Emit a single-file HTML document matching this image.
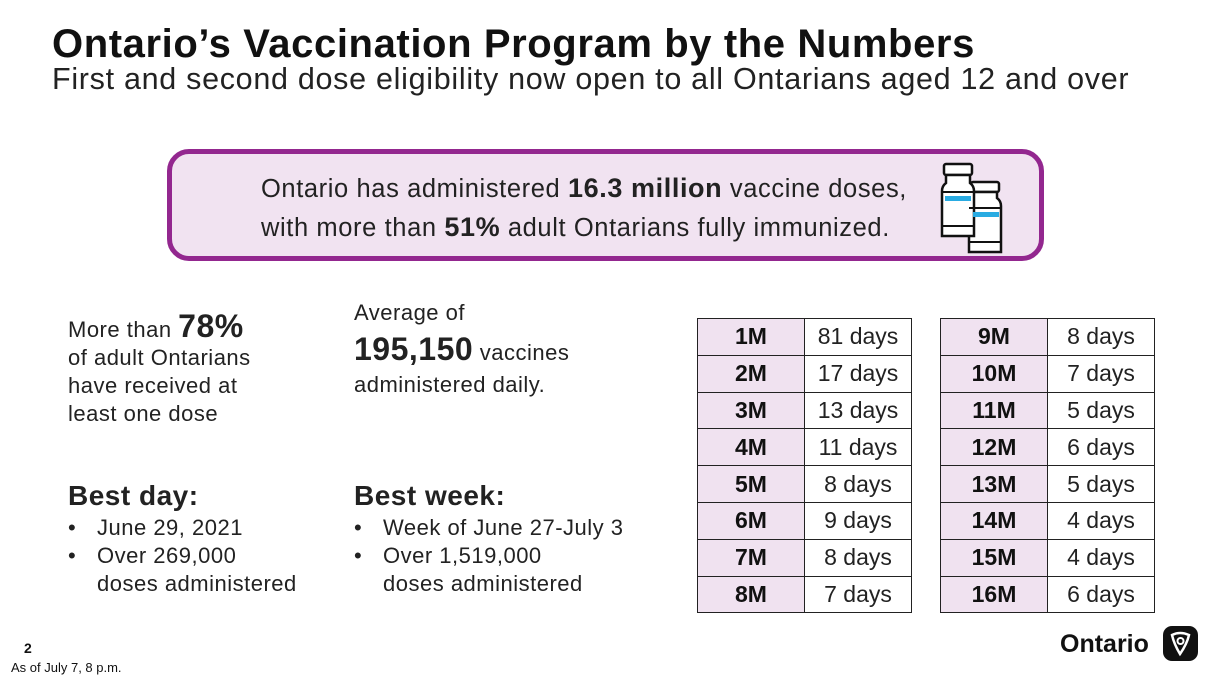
<!DOCTYPE html>
<html><head><meta charset="utf-8"><style>
body{margin:0;width:1218px;height:679px;background:#fff;font-family:"Liberation Sans",sans-serif;color:#111;position:relative;overflow:hidden}
.a{position:absolute;margin:0}
h1{position:absolute;left:52px;top:22px;margin:0;font-size:40px;font-weight:bold;letter-spacing:0.6px;white-space:nowrap}
.sub{left:52px;top:62px;font-size:30.5px;color:#222;letter-spacing:0.7px;white-space:nowrap}
.box{left:167px;top:149px;width:867px;height:102px;border:5px solid #93278f;border-radius:22px;background:#f1e3f1}
.boxt{left:89px;top:15px;font-size:25.5px;line-height:38px;color:#222;letter-spacing:0.6px;white-space:nowrap}
.t{position:absolute;border-collapse:collapse;font-size:23px}
.t td{border:1.5px solid #222;height:35.8px;padding:0;text-align:center}
.t td.k{background:#f0e2f0;font-weight:bold;width:106px}
.t td.v{width:106px;color:#222}
.txt{font-size:22px;line-height:28px;color:#222;letter-spacing:0.5px;white-space:nowrap}
ul{margin:0;padding:0;list-style:none}
li{position:relative;padding-left:29px}
li:before{content:"•";position:absolute;left:0}
</style></head><body>
<h1>Ontario’s Vaccination Program by the Numbers</h1>
<p class="a sub">First and second dose eligibility now open to all Ontarians aged 12 and over</p>
<div class="a box">
<p class="a boxt">Ontario has administered <b style="font-size:27px">16.3 million</b> vaccine doses,<br>with more than <b style="font-size:27px">51%</b> adult Ontarians fully immunized.</p>
<svg class="a" style="left:766px;top:8px" width="66" height="92" viewBox="0 0 66 92">
<g stroke="#111" stroke-width="2.5" fill="#fff">
<rect x="33" y="20" width="28" height="10" rx="2"/><path d="M35 30 h24 v6 q4 3 4 8 v46 h-32 v-46 q0-5 4-8z"/>
<rect x="6" y="2" width="28" height="11" rx="2"/><path d="M8 13 h24 v8 q4 3 4 8 v45 h-32 v-45 q0-5 4-8z"/>
</g>
<rect x="7" y="34" width="26" height="5" fill="#29abe2"/><rect x="35" y="50" width="26" height="5" fill="#29abe2"/>
<line x1="4" y1="30" x2="36" y2="30" stroke="#111" stroke-width="2"/><line x1="4" y1="64" x2="36" y2="64" stroke="#111" stroke-width="2"/>
<line x1="31" y1="46" x2="63" y2="46" stroke="#111" stroke-width="2"/><line x1="31" y1="80" x2="63" y2="80" stroke="#111" stroke-width="2"/>
</svg>
</div>
<div class="a txt" style="left:68px;top:312px">More than <b style="font-size:32px">78%</b><br>of adult Ontarians<br>have received at<br>least one dose</div>
<div class="a txt" style="left:354px;top:299px">Average of<br><b style="font-size:32px;line-height:44px">195,150</b> vaccines<br>administered daily.</div>
<div class="a txt" style="left:68px;top:478px"><b style="font-size:28px;line-height:36px">Best day:</b><ul><li>June 29, 2021</li><li>Over 269,000<br>doses administered</li></ul></div>
<div class="a txt" style="left:354px;top:478px"><b style="font-size:28px;line-height:36px">Best week:</b><ul><li>Week of June 27-July 3</li><li>Over 1,519,000<br>doses administered</li></ul></div>
<table class="t" style="left:697px;top:318px">
<tr><td class="k">1M</td><td class="v">81 days</td></tr><tr><td class="k">2M</td><td class="v">17 days</td></tr><tr><td class="k">3M</td><td class="v">13 days</td></tr><tr><td class="k">4M</td><td class="v">11 days</td></tr><tr><td class="k">5M</td><td class="v">8 days</td></tr><tr><td class="k">6M</td><td class="v">9 days</td></tr><tr><td class="k">7M</td><td class="v">8 days</td></tr><tr><td class="k">8M</td><td class="v">7 days</td></tr></table>
<table class="t" style="left:940px;top:318px">
<tr><td class="k">9M</td><td class="v">8 days</td></tr><tr><td class="k">10M</td><td class="v">7 days</td></tr><tr><td class="k">11M</td><td class="v">5 days</td></tr><tr><td class="k">12M</td><td class="v">6 days</td></tr><tr><td class="k">13M</td><td class="v">5 days</td></tr><tr><td class="k">14M</td><td class="v">4 days</td></tr><tr><td class="k">15M</td><td class="v">4 days</td></tr><tr><td class="k">16M</td><td class="v">6 days</td></tr></table>
<div class="a" style="left:24px;top:640px;font-size:14px;font-weight:bold">2</div>
<div class="a" style="left:11px;top:660px;font-size:13px">As of July 7, 8 p.m.</div>
<div class="a" style="left:1060px;top:630px;font-size:25px;font-weight:bold">Ontario</div>
<svg class="a" style="left:1163px;top:626px" width="35" height="35" viewBox="0 0 35 35"><rect width="35" height="35" rx="9" fill="#111"/><path d="M9 9 Q17 5 26 9 Q24 18 17 28 Q11 18 9 9z" fill="none" stroke="#fff" stroke-width="2.5"/><circle cx="17.5" cy="15" r="3" fill="none" stroke="#fff" stroke-width="2"/></svg>
</body></html>
